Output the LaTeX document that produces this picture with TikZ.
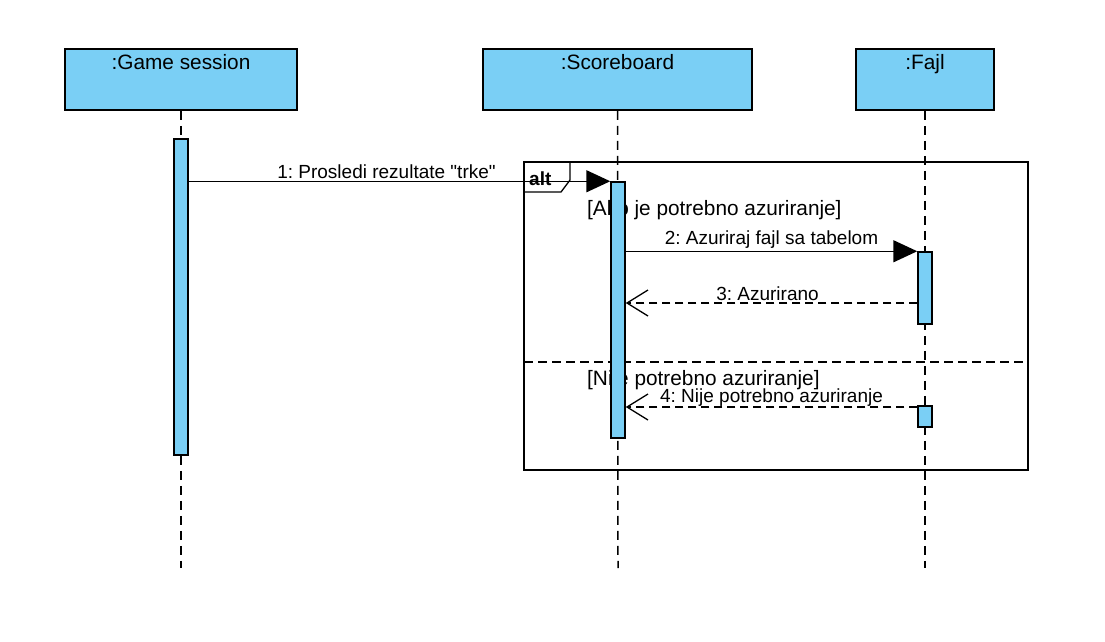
\documentclass[tikz,border=0pt]{standalone}
\usepackage{fontspec}
\setmainfont{Liberation Sans}[Ligatures=TeXOff]
\usetikzlibrary{arrows.meta,positioning}

\definecolor{umlblue}{RGB}{122,207,245}

\tikzstyle{head} = [draw, fill=umlblue, rectangle, line width=1.5pt,
    minimum height=61, text height=14, text depth=35, inner sep=6,
    font=\fontsize{20.8}{24}\selectfont]
\tikzstyle{act} = [draw, fill=umlblue, rectangle, line width=1.5pt,
    minimum width=14, inner sep=0]
\tikzstyle{lifeline} = [line width=1.5pt, dash pattern=on 9pt off 6pt]
\tikzstyle{sync} = [line width=1.5pt, -{Triangle[length=24pt,width=22pt]}]
\tikzstyle{reply} = [line width=1.5pt, dash pattern=on 8pt off 5pt,
    -{Straight Barb[length=21pt,width=26pt,line width=1.3pt]}]
\tikzstyle{msg} = [above, font=\fontsize{19}{22}\selectfont, inner sep=2]
\tikzstyle{guard} = [anchor=west, font=\fontsize{20.8}{24}\selectfont, inner sep=0]

\begin{document}
\frenchspacing
\begin{tikzpicture}[x=1pt, y=-1pt]
    \useasboundingbox (0,0) rectangle (1105,641);
    % lifeline heads
    \node [head, minimum width=232] (game) at (181,79.5) {:Game session};
    \node [head, minimum width=269] (score) at (617.5,79.5) {:Scoreboard};
    \node [head, minimum width=138] (fajl) at (925,79.5) {:Fajl};
    \coordinate (gameend) at (181,568);
    \coordinate (scoreend) at (618,568);
    \coordinate (fajlend) at (925,568);
    \draw [lifeline] (game.south) -- (gameend);
    \draw [lifeline] (score.south) -- (scoreend);
    \draw [lifeline] (fajl.south) -- (fajlend);
    % alt fragment
    \draw [line width=1.5pt] (524,162) rectangle (1028,470);
    \draw [line width=1.3pt] (524,192) -- (561,192) -- (570,180) -- (570,162);
    \node [anchor=base west, font=\bfseries\fontsize{19}{22}\selectfont, inner sep=0] (alt) at (529,185) {alt};
    \draw [line width=1.3pt, dash pattern=on 9pt off 5pt] (524,362) -- (1028,362);
    \node [guard] (ifyes) at (587,210) {[Ako je potrebno azuriranje]};
    \node [guard] (ifno) at (587,380) {[Nije potrebno azuriranje]};
    % activations
    \node [act, minimum height=316] (gameact) at (181,297) {};
    \node [act, minimum height=256] (scoreact) at (618,310) {};
    \node [act, minimum height=72] (fajlact1) at (925,288) {};
    \node [act, minimum height=21] (fajlact2) at (925,416.5) {};
    % messages
    \coordinate (y3) at (0,303);
    \coordinate (y4) at (0,407);
    \draw [sync] (gameact.east |- scoreact.north) -- node [msg, xshift=-13] {1: Prosledi rezultate "trke"} (scoreact.north west);
    \draw [sync] (scoreact.east |- fajlact1.north) -- node [msg] {2: Azuriraj fajl sa tabelom} (fajlact1.north west);
    \draw [reply] (fajlact1.west |- y3) -- node [msg, xshift=-4] {3: Azurirano} (scoreact.east |- y3);
    \draw [reply] (fajlact2.west |- y4) -- node [msg, inner sep=0] {4: Nije potrebno azuriranje} (scoreact.east |- y4);
\end{tikzpicture}
\end{document}
